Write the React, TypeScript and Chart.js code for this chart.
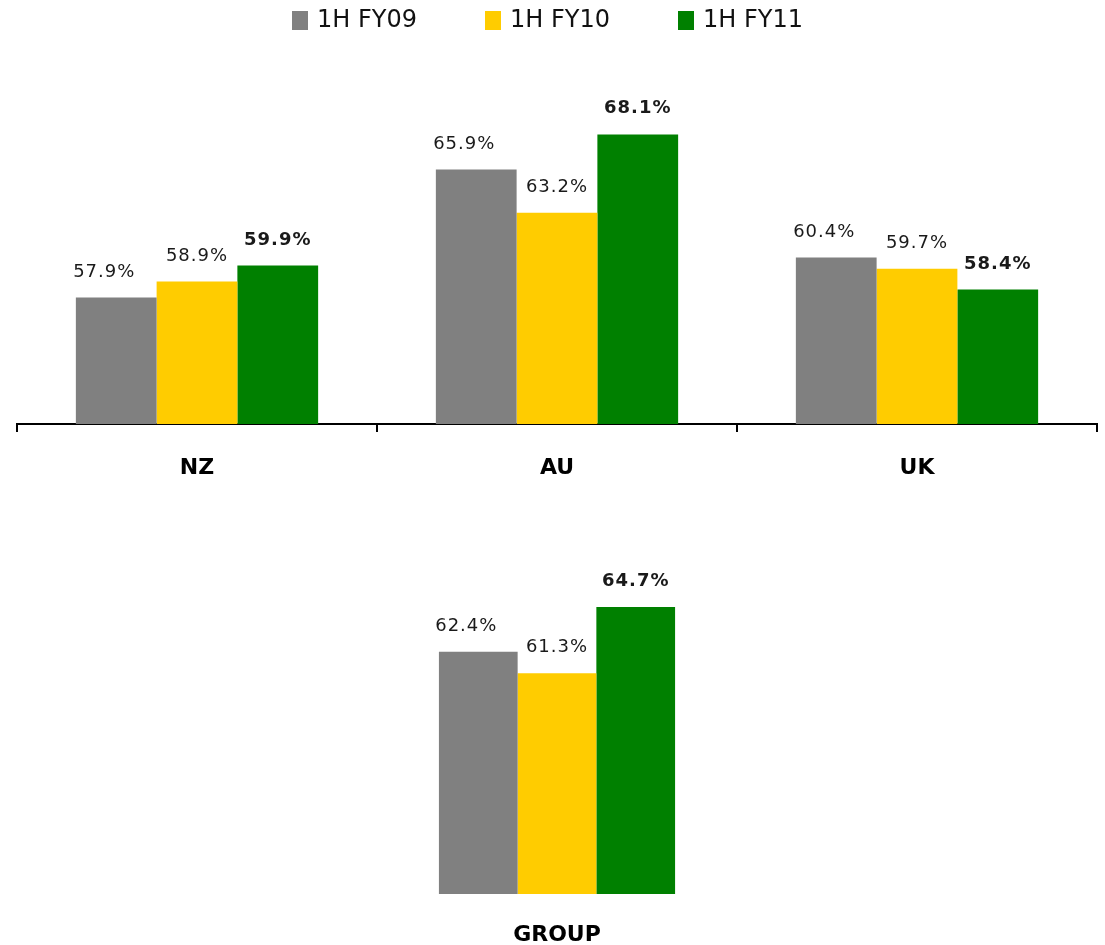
import React, { useEffect, useRef } from "react";
import { Chart, registerables } from "chart.js";

Chart.register(...registerables);

const categories = ["NZ", "AU", "UK"];
const seriesLabels = ["1H FY09", "1H FY10", "1H FY11"];
const fy09 = [57.9, 65.9, 60.4];
const fy10 = [58.9, 63.2, 59.7];
const fy11 = [59.9, 68.1, 58.4];

const groupCategories = ["GROUP"];
const groupFy09 = [62.4];
const groupFy10 = [61.3];
const groupFy11 = [64.7];

const seriesColors = ["#808080", "#FFCC00", "#008000"];
const FONT = "'DejaVu Sans', Verdana, sans-serif";
const labelShift = [-12, 0, 0];

const valueLabelPlugin = {
  id: "valueLabels",
  afterDatasetsDraw(chart: any) {
    const ctx = chart.ctx;
    ctx.save();
    ctx.textAlign = "center";
    ctx.textBaseline = "alphabetic";
    try { (ctx as any).letterSpacing = "1px"; } catch (e) {}
    chart.data.datasets.forEach((ds: any, di: number) => {
      const meta = chart.getDatasetMeta(di);
      ctx.font = (di === 2 ? "bold " : "") + "18px " + FONT;
      ctx.fillStyle = "#1a1a1a";
      meta.data.forEach((bar: any, i: number) => {
        const v = ds.data[i];
        ctx.fillText(v.toFixed(1) + "%", bar.x + labelShift[di], bar.y - 21);
      });
    });
    ctx.restore();
  },
};

const legendPlugin = {
  id: "customLegend",
  afterDraw(chart: any) {
    const ctx = chart.ctx;
    ctx.save();
    ctx.font = "24px " + FONT;
    ctx.textBaseline = "middle";
    ctx.textAlign = "left";
    const startX = 292;
    const step = 193;
    chart.data.datasets.forEach((ds: any, i: number) => {
      const x = startX + i * step;
      ctx.fillStyle = ds.backgroundColor;
      ctx.fillRect(x, 11, 16, 19);
      ctx.fillStyle = "#111";
      ctx.fillText(ds.label, x + 25, 21);
    });
    ctx.restore();
  },
};

function makeDatasets(a: number[], b: number[], c: number[], pct: number) {
  return [a, b, c].map((d, i) => ({
    label: seriesLabels[i],
    data: d,
    backgroundColor: seriesColors[i],
    borderWidth: 0,
    categoryPercentage: pct,
    barPercentage: 1,
  }));
}

export default function App() {
  const topRef = useRef<HTMLCanvasElement>(null);
  const botRef = useRef<HTMLCanvasElement>(null);

  useEffect(() => {
    const top = new Chart(topRef.current!, {
      type: "bar",
      data: { labels: categories, datasets: makeDatasets(fy09, fy10, fy11, 0.673) as any },
      options: {
        responsive: false,
        animation: false,
        layout: { padding: { top: 104, left: 17, right: 8, bottom: 0 } },
        plugins: { legend: { display: false }, tooltip: { enabled: false } },
        scales: {
          y: { display: false, min: 50, max: 70 },
          x: {
            offset: true,
            border: { display: true, color: "#000", width: 2 },
            grid: {
              display: true,
              offset: true,
              drawOnChartArea: false,
              drawTicks: true,
              tickLength: 8,
              color: "#000",
              lineWidth: 2,
            },
            ticks: {
              color: "#000",
              padding: 25,
              font: { family: FONT, size: 22, weight: "bold", lineHeight: 1.0 },
            },
          },
        },
      },
      plugins: [valueLabelPlugin, legendPlugin],
    });

    const bot = new Chart(botRef.current!, {
      type: "bar",
      data: { labels: groupCategories, datasets: makeDatasets(groupFy09, groupFy10, groupFy11, 0.656) as any },
      options: {
        responsive: false,
        animation: false,
        layout: { padding: { top: 20, left: 0, right: 0, bottom: 0 } },
        plugins: { legend: { display: false }, tooltip: { enabled: false } },
        scales: {
          y: { display: false, min: 50, max: 67.1 },
          x: {
            border: { display: false },
            grid: { display: false },
            ticks: {
              color: "#000",
              padding: 22,
              font: { family: FONT, size: 22, weight: "bold", lineHeight: 1.0 },
            },
          },
        },
      },
      plugins: [valueLabelPlugin],
    });

    return () => {
      top.destroy();
      bot.destroy();
    };
  }, []);

  return (
    <div style={{ position: "absolute", left: 0, top: 0, width: 1105, height: 945, background: "#fff", overflow: "hidden" }}>
      <canvas ref={topRef} width={1105} height={504} style={{ position: "absolute", left: 0, top: 0 }} />
      <canvas ref={botRef} width={360} height={428} style={{ position: "absolute", left: 377, top: 540 }} />
    </div>
  );
}
